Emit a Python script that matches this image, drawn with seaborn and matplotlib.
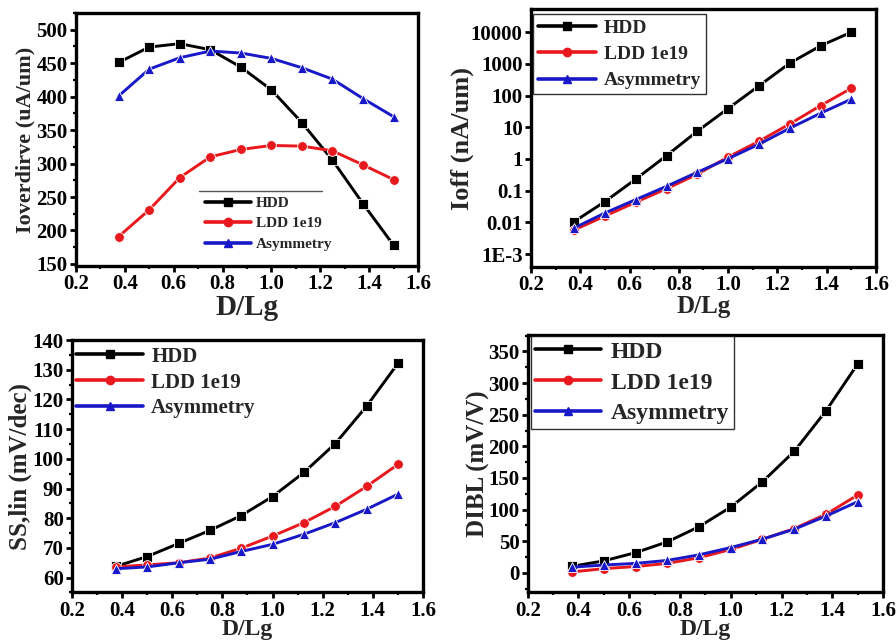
import numpy as np
import pandas as pd
import matplotlib
matplotlib.use("Agg")
import matplotlib.pyplot as plt
from matplotlib.ticker import MultipleLocator, FixedLocator, FixedFormatter, NullLocator
from matplotlib.lines import Line2D
import seaborn as sns

# Doping ratio sweep
d_lg = [0.375, 0.5, 0.625, 0.75, 0.875, 1.0, 1.125, 1.25, 1.375, 1.5]
devices = ["HDD", "LDD 1e19", "Asymmetry"]

# Overdrive current (uA/um)
ion_hdd = [451, 474, 479, 470, 444, 410, 361, 305, 240, 178]
ion_ldd = [191, 231, 279, 310, 321, 327, 326, 319, 298, 276]
ion_asym = [401, 441, 458, 468, 465, 457, 443, 426, 397, 370]

# Off-state leakage (nA/um)
ioff_hdd = [0.0105, 0.045, 0.23, 1.27, 7.5, 39, 202, 1050, 3700, 10000]
ioff_ldd = [0.0057, 0.0158, 0.043, 0.115, 0.33, 1.15, 3.6, 12.7, 48, 170]
ioff_asym = [0.0066, 0.0197, 0.052, 0.137, 0.38, 1.02, 2.9, 9.3, 27.7, 77]

# Subthreshold swing, linear (mV/dec)
ss_hdd = [63.8, 67.1, 71.5, 75.9, 80.9, 87.3, 95.4, 105.1, 117.7, 132.1]
ss_ldd = [63.6, 64.3, 65.0, 66.6, 69.9, 74.0, 78.5, 84.0, 90.7, 98.1]
ss_asym = [63.0, 63.6, 65.0, 66.2, 68.8, 71.2, 74.6, 78.5, 83.0, 88.1]

# DIBL (mV/V)
dibl_hdd = [10.4, 19, 32, 49, 73, 104, 144, 192, 256, 330]
dibl_ldd = [1.5, 6.7, 10, 15, 24, 37, 53, 70, 92.5, 123]
dibl_asym = [9, 12.4, 15, 19.7, 28.5, 40, 53.4, 69, 89.7, 112.5]

ioff_ticks = [1e-3, 1e-2, 1e-1, 1, 10, 100, 1000, 10000]
ioff_ticklabels = ["1E-3", "0.01", "0.1", "1", "10", "100", "1000", "10000"]

sns.set_theme(style="ticks")
plt.rcParams["font.family"] = ["Liberation Serif", "DejaVu Serif"]
plt.rcParams["font.weight"] = "bold"
plt.rcParams["axes.labelweight"] = "bold"
plt.rcParams["axes.linewidth"] = 2.4
plt.rcParams["xtick.major.width"] = 2.0
plt.rcParams["ytick.major.width"] = 2.0
plt.rcParams["xtick.minor.width"] = 1.6
plt.rcParams["ytick.minor.width"] = 1.6
plt.rcParams["xtick.major.size"] = 4
plt.rcParams["ytick.major.size"] = 4
plt.rcParams["xtick.minor.size"] = 2.5
plt.rcParams["ytick.minor.size"] = 2.5
plt.rcParams["xtick.direction"] = "out"
plt.rcParams["ytick.direction"] = "out"
plt.rcParams["xtick.color"] = "black"
plt.rcParams["ytick.color"] = "black"
plt.rcParams["axes.edgecolor"] = "black"

palette = {"HDD": "#000000", "LDD 1e19": "#e8181c", "Asymmetry": "#1818c8"}
markers = {"HDD": "s", "LDD 1e19": "o", "Asymmetry": "^"}


def long_frame(name, hdd, ldd, asym):
    rows = []
    for dev, vals in zip(devices, [hdd, ldd, asym]):
        for x, v in zip(d_lg, vals):
            rows.append({"D/Lg": x, name: v, "Device": dev})
    return pd.DataFrame(rows)


fig = plt.figure(figsize=(8.96, 6.44), dpi=100)
ax1 = fig.add_axes([0.0848, 0.587, 0.3817, 0.393])
ax2 = fig.add_axes([0.5926, 0.5854, 0.3851, 0.4006])
ax3 = fig.add_axes([0.0804, 0.0800, 0.3916, 0.392])
ax4 = fig.add_axes([0.589, 0.0800, 0.3965, 0.3998])

panels = [
    (ax1, "Ioverdirve (uA/um)", long_frame("Ioverdirve (uA/um)", ion_hdd, ion_ldd, ion_asym)),
    (ax2, "Ioff (nA/um)", long_frame("Ioff (nA/um)", ioff_hdd, ioff_ldd, ioff_asym)),
    (ax3, "SS,lin (mV/dec)", long_frame("SS,lin (mV/dec)", ss_hdd, ss_ldd, ss_asym)),
    (ax4, "DIBL (mV/V)", long_frame("DIBL (mV/V)", dibl_hdd, dibl_ldd, dibl_asym)),
]

for ax, ycol, df in panels:
    sns.lineplot(data=df, x="D/Lg", y=ycol, hue="Device", style="Device",
                 palette=palette, markers=markers, dashes=False,
                 linewidth=2.1, markersize=7, markeredgewidth=0.6,
                 ax=ax, legend=False)
    ax.set_xlim(0.2, 1.6)
    ax.xaxis.set_major_locator(MultipleLocator(0.2))
    ax.xaxis.set_minor_locator(MultipleLocator(0.1))
    ax.xaxis.set_major_formatter(matplotlib.ticker.FormatStrFormatter("%.1f"))
    ax.tick_params(labelsize=15, pad=2)
    for s in ax.spines.values():
        s.set_visible(True)
        s.set_linewidth(2.4)

# Overdrive current
ax1.set_ylim(147, 525)
ax1.yaxis.set_major_locator(MultipleLocator(50))
ax1.yaxis.set_minor_locator(MultipleLocator(25))
ax1.set_xlabel("D/Lg", fontsize=21, fontweight="bold", labelpad=0)
ax1.set_ylabel("Ioverdirve (uA/um)", fontsize=16, fontweight="bold", labelpad=1)

# Leakage on a log scale
ax2.set_yscale("log")
ax2.set_ylim(10 ** -3.41, 10 ** 4.73)
ax2.yaxis.set_major_locator(FixedLocator(ioff_ticks))
ax2.yaxis.set_major_formatter(FixedFormatter(ioff_ticklabels))
ax2.yaxis.set_minor_locator(NullLocator())
ax2.set_xlabel("D/Lg", fontsize=18, fontweight="bold", labelpad=0)
ax2.set_ylabel("Ioff (nA/um)", fontsize=19, fontweight="bold", labelpad=-2)

# Subthreshold swing
ax3.set_ylim(55, 140)
ax3.yaxis.set_major_locator(MultipleLocator(10))
ax3.yaxis.set_minor_locator(MultipleLocator(5))
ax3.set_xlabel("D/Lg", fontsize=17, fontweight="bold", labelpad=-1)
ax3.set_ylabel("SS,lin (mV/dec)", fontsize=18, fontweight="bold", labelpad=0)

# DIBL
ax4.set_ylim(-31, 376)
ax4.yaxis.set_major_locator(MultipleLocator(50))
ax4.yaxis.set_minor_locator(MultipleLocator(25))
ax4.set_xlabel("D/Lg", fontsize=17, fontweight="bold", labelpad=-1)
ax4.set_ylabel("DIBL (mV/V)", fontsize=18, fontweight="bold", labelpad=-1)

for ax in (ax1, ax2, ax3, ax4):
    for lab in ax.get_xticklabels() + ax.get_yticklabels():
        lab.set_fontweight("bold")


def handles(ms):
    return [Line2D([0], [0], color=palette[d], marker=markers[d], lw=2.6,
                   markersize=ms, label=d) for d in devices]


leg1 = ax1.legend(handles=handles(6), loc="upper left", bbox_to_anchor=(0.36, 0.30),
                  frameon=False, prop={"size": 11, "weight": "bold"},
                  handlelength=3.0, handletextpad=0.3, labelspacing=0.45,
                  borderaxespad=0)
ax1.add_line(Line2D([0.36, 0.72], [0.296, 0.296], transform=ax1.transAxes,
                    color="#555555", lw=1.0))

leg2 = ax2.legend(handles=handles(6), loc="upper left", bbox_to_anchor=(0.005, 0.98),
                  frameon=True, fancybox=False, edgecolor="black",
                  prop={"size": 14, "weight": "bold"},
                  handlelength=3.0, handletextpad=0.4, labelspacing=0.45,
                  borderpad=0.25, borderaxespad=0)
leg2.get_frame().set_linewidth(1.0)

leg3 = ax3.legend(handles=handles(6), loc="upper left", bbox_to_anchor=(0.0, 0.99),
                  frameon=False, prop={"size": 15, "weight": "bold"},
                  handlelength=3.2, handletextpad=0.4, labelspacing=0.28,
                  borderpad=0.2, borderaxespad=0)

leg4 = ax4.legend(handles=handles(6), loc="upper left", bbox_to_anchor=(0.008, 0.995),
                  frameon=True, fancybox=False, edgecolor="black",
                  prop={"size": 17, "weight": "bold"},
                  handlelength=2.8, handletextpad=0.4, labelspacing=0.4,
                  borderpad=0.2, borderaxespad=0)
leg4.get_frame().set_linewidth(1.0)

fig.savefig("out.png", dpi=100)
